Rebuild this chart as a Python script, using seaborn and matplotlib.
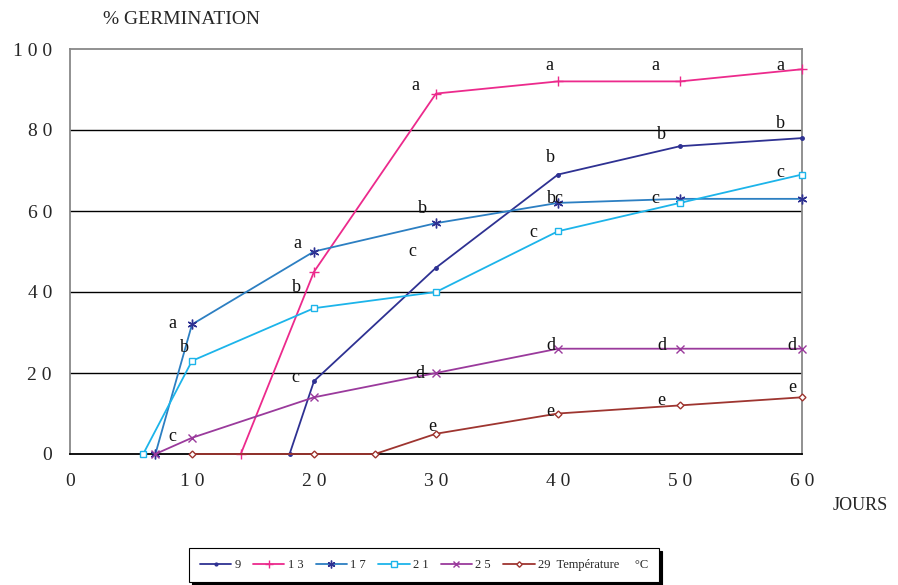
import matplotlib
matplotlib.use("Agg")
import matplotlib.pyplot as plt
import seaborn as sns
import pandas as pd
from matplotlib.lines import Line2D

sns.set_style("white")
plt.rcParams["font.family"] = ["Liberation Serif", "DejaVu Serif"]

# Germination (%) over days for each temperature (°C)
temps = ["9", "13", "17", "21", "25", "29"]
days_9 = [18, 20, 30, 40, 50, 60]
germ_9 = [0, 18, 46, 69, 76, 78]
days_13 = [14, 20, 30, 40, 50, 60]
germ_13 = [0, 45, 89, 92, 92, 95]
days_17 = [7, 10, 20, 30, 40, 50, 60]
germ_17 = [0, 32, 50, 57, 62, 63, 63]
days_21 = [6, 10, 20, 30, 40, 50, 60]
germ_21 = [0, 23, 36, 40, 55, 62, 69]
days_25 = [7, 10, 20, 30, 40, 50, 60]
germ_25 = [0, 4, 14, 20, 26, 26, 26]
days_29 = [10, 20, 25, 30, 40, 50, 60]
germ_29 = [0, 0, 0, 5, 10, 12, 14]

legend_labels = ["9", "1 3", "1 7", "2 1", "2 5", "29  Température     °C"]
x_ticks = [0, 10, 20, 30, 40, 50, 60]
x_tick_labels = ["0", "1 0", "2 0", "3 0", "4 0", "5 0", "6 0"]
y_ticks = [0, 20, 40, 60, 80, 100]
y_tick_labels = ["0", "2 0", "4 0", "6 0", "8 0", "1 0 0"]

# Significance letters (day, % position, letter)
letter_x = [28.3, 39.3, 48.0, 58.2,
            39.4, 48.5, 58.2, 28.1, 18.5,
            18.6, 28.9, 39.8, 48.0, 8.4,
            9.4, 18.6, 38.0, 58.2,
            8.4, 28.7, 39.4, 48.5, 59.2,
            29.7, 39.4, 48.5, 59.2]
letter_y = [90.9, 96.0, 96.0, 96.0,
            73.3, 78.8, 81.5, 49.9, 18.8,
            52.0, 60.5, 63.2, 63.2, 32.3,
            26.2, 41.2, 54.8, 69.6,
            4.2, 19.8, 26.9, 26.9, 26.9,
            6.7, 10.4, 13.3, 16.3]
letter_txt = ["a", "a", "a", "a",
              "b", "b", "b", "c", "c",
              "a", "b", "bc", "c", "a",
              "b", "b", "c", "c",
              "c", "d", "d", "d", "d",
              "e", "e", "e", "e"]

series = [
    (days_9, germ_9, "#2E3192", "o", 2.5, "#2E3192", "#2E3192"),
    (days_13, germ_13, "#EC2A8C", "+", 7, "#EC2A8C", "#EC2A8C"),
    (days_17, germ_17, "#2C7FC2", (6, 2, 0), 7, "#2E3192", "#2E3192"),
    (days_21, germ_21, "#1CB4EA", "s", 5, "#1CB4EA", "white"),
    (days_25, germ_25, "#9A3A9C", "x", 5.5, "#9A3A9C", "#9A3A9C"),
    (days_29, germ_29, "#9E3530", "D", 3.5, "#9E3530", "white"),
]

fig = plt.figure(figsize=(8.98, 5.85), dpi=100)
ax = fig.add_axes([70 / 898, 1 - 454 / 585, (802 - 70) / 898, (454 - 49) / 585])

for i, (dx, gy, col, mk, ms, mec, mfc) in enumerate(series):
    df = pd.DataFrame({"jours": dx, "germination": gy})
    sns.lineplot(data=df, x="jours", y="germination", ax=ax, color=col,
                 marker=mk, markersize=ms, markeredgecolor=mec,
                 markerfacecolor=mfc, markeredgewidth=1.0, linewidth=1.3,
                 zorder=3 + i, clip_on=False)

for lx, ly, t in zip(letter_x, letter_y, letter_txt):
    ax.text(lx, ly, t, fontsize=13, ha="center", va="center", color="#111111", zorder=10)

ax.set_xlim(0, 60)
ax.set_ylim(0, 100)
ax.set_xticks(x_ticks)
ax.set_xticklabels(x_tick_labels, fontsize=14)
ax.set_yticks(y_ticks)
ax.set_yticklabels(y_tick_labels, fontsize=14)
ax.set_xlabel("")
ax.set_ylabel("")
ax.tick_params(axis="x", direction="out", length=4, width=1, color="#555555", pad=10)
ax.tick_params(axis="y", direction="out", length=5, width=1, color="#555555", pad=8)
for yv in y_ticks[1:-1]:
    ax.axhline(yv, color="black", linewidth=1.0, zorder=1)
for side in ["left", "top", "right"]:
    ax.spines[side].set_color("#888888")
    ax.spines[side].set_linewidth(1.3)
ax.spines["bottom"].set_color("black")
ax.spines["bottom"].set_linewidth(1.3)

fig.text(103 / 898, 1 - 19 / 585, "% GERMINATION", fontsize=14, ha="left", va="center")
fig.text(833 / 898, 1 - 505 / 585, "JOURS", fontsize=13, ha="left", va="center")

handles = [Line2D([], [], color=c, marker=m, markersize=ms * 0.8, markeredgecolor=e,
                  markerfacecolor=f, linewidth=1.3)
           for (_, _, c, m, ms, e, f) in series]
leg = fig.legend(handles, legend_labels, loc="center", ncol=6,
                 bbox_to_anchor=(424 / 898, 1 - 565 / 585), frameon=True, fancybox=False,
                 shadow={"color": "black", "alpha": 1}, fontsize=9,
                 handlelength=2.5, columnspacing=1.0,
                 handletextpad=0.25, borderpad=0.9)
leg.get_frame().set_edgecolor("black")
leg.get_frame().set_linewidth(0.8)

fig.savefig("out.png", dpi=100)
